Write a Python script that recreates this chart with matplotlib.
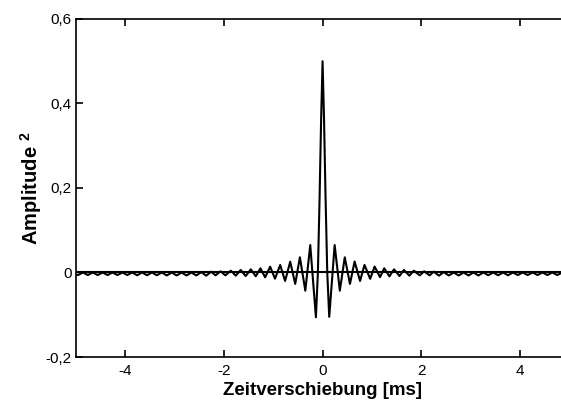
import numpy as np
import matplotlib.pyplot as plt

# Autocorrelation (squared amplitude) versus time lag, read as the
# turning points of the oscillation; the line is drawn through them.
lag_neg = [-5.00, -4.96, -4.86, -4.76, -4.66, -4.56, -4.46, -4.36, -4.26,
           -4.16, -4.06, -3.96, -3.86, -3.76, -3.66, -3.56, -3.46, -3.36,
           -3.26, -3.16, -3.06, -2.96, -2.86, -2.76, -2.66, -2.56, -2.46,
           -2.36, -2.26, -2.17, -2.07, -1.97, -1.86, -1.76, -1.66, -1.56,
           -1.455, -1.355, -1.26, -1.165, -1.063, -0.965, -0.86, -0.76,
           -0.656, -0.555, -0.46, -0.35, -0.25, -0.135, -0.095, -0.06, -0.03]
amp_neg = [-0.005, -0.006, 0.0, -0.006, 0.0, -0.006, 0.0, -0.006, 0.0,
           -0.006, 0.0, -0.006, 0.0, -0.0065, 0.0, -0.0065, 0.0, -0.0065,
           0.0, -0.007, 0.0, -0.007, 0.0, -0.007, 0.0, -0.007, 0.001,
           -0.0075, 0.002, -0.0067, 0.0028, -0.0067, 0.0043, -0.0075, 0.006,
           -0.0083, 0.0075, -0.009, 0.0099, -0.0114, 0.0138, -0.0146, 0.0178,
           -0.020, 0.0256, -0.027, 0.036, -0.043, 0.065, -0.106, 0.0, 0.18,
           0.36]

lag_peak = [0.0]
amp_peak = [0.5]

lag_pos = [0.03, 0.06, 0.095, 0.135, 0.245, 0.35, 0.45, 0.555, 0.65, 0.76,
           0.85, 0.965, 1.055, 1.165, 1.25, 1.355, 1.45, 1.56, 1.65, 1.76,
           1.85, 1.97, 2.06, 2.17, 2.255, 2.36, 2.455, 2.56, 2.66, 2.76,
           2.86, 2.96, 3.06, 3.16, 3.26, 3.36, 3.46, 3.56, 3.66, 3.76, 3.86,
           3.96, 4.06, 4.16, 4.26, 4.36, 4.46, 4.56, 4.66, 4.76, 4.86, 4.96,
           5.00]
amp_pos = [0.36, 0.18, 0.0, -0.105, 0.065, -0.043, 0.036, -0.027, 0.026,
           -0.020, 0.018, -0.015, 0.014, -0.011, 0.010, -0.009, 0.0075,
           -0.0083, 0.006, -0.0075, 0.0043, -0.0067, 0.0028, -0.0067, 0.002,
           -0.0075, 0.001, -0.007, 0.0, -0.007, 0.0, -0.007, 0.0, -0.007, 0.0,
           -0.0065, 0.0, -0.0065, 0.0, -0.0065, 0.0, -0.006, 0.0, -0.006, 0.0,
           -0.006, 0.0, -0.006, 0.0, -0.006, 0.0, -0.006, -0.005]

x_ticks = [-4, -2, 0, 2, 4]
y_ticks = [-0.2, 0.0, 0.2, 0.4, 0.6]
y_tick_labels = ["-0,2", "0", "0,2", "0,4", "0,6"]

plt.rcParams['font.family'] = ['Liberation Sans', 'DejaVu Sans']
plt.rcParams['mathtext.fontset'] = 'custom'
plt.rcParams['mathtext.bf'] = 'Liberation Sans:bold'
plt.rcParams['mathtext.rm'] = 'Liberation Sans:bold'

lag = np.concatenate([lag_neg, lag_peak, lag_pos])
amp = np.concatenate([amp_neg, amp_peak, amp_pos])

fig = plt.figure(figsize=(5.61, 4.01), dpi=100)
# right edge of the axes runs just past the figure border
ax = fig.add_axes([0.1355, 0.1097, 0.879, 0.843])

ax.axhline(0, color='black', lw=1.5)
ax.plot(lag, amp, color='black', lw=1.5)

ax.set_xlim(-5, 5)
ax.set_ylim(-0.2, 0.6)
ax.set_xticks(x_ticks)
ax.set_xticklabels([str(t) for t in x_ticks])
ax.set_yticks(y_ticks)
ax.set_yticklabels(y_tick_labels)

ax.tick_params(direction='in', length=5, width=1.2, labelsize=11,
               top=True, right=True, colors='black')
ax.tick_params(axis='x', pad=5)
ax.tick_params(axis='y', pad=3)
for side in ax.spines.values():
    side.set_linewidth(1.2)
    side.set_color('black')

ax.set_xlabel("Zeitverschiebung [ms]", fontsize=13.5, fontweight='bold',
              labelpad=3)
ax.set_ylabel(r"Amplitude $^{\mathbf{2}}$", fontsize=14.5, fontweight='bold',
              labelpad=1)

fig.savefig("out.png", dpi=100)
